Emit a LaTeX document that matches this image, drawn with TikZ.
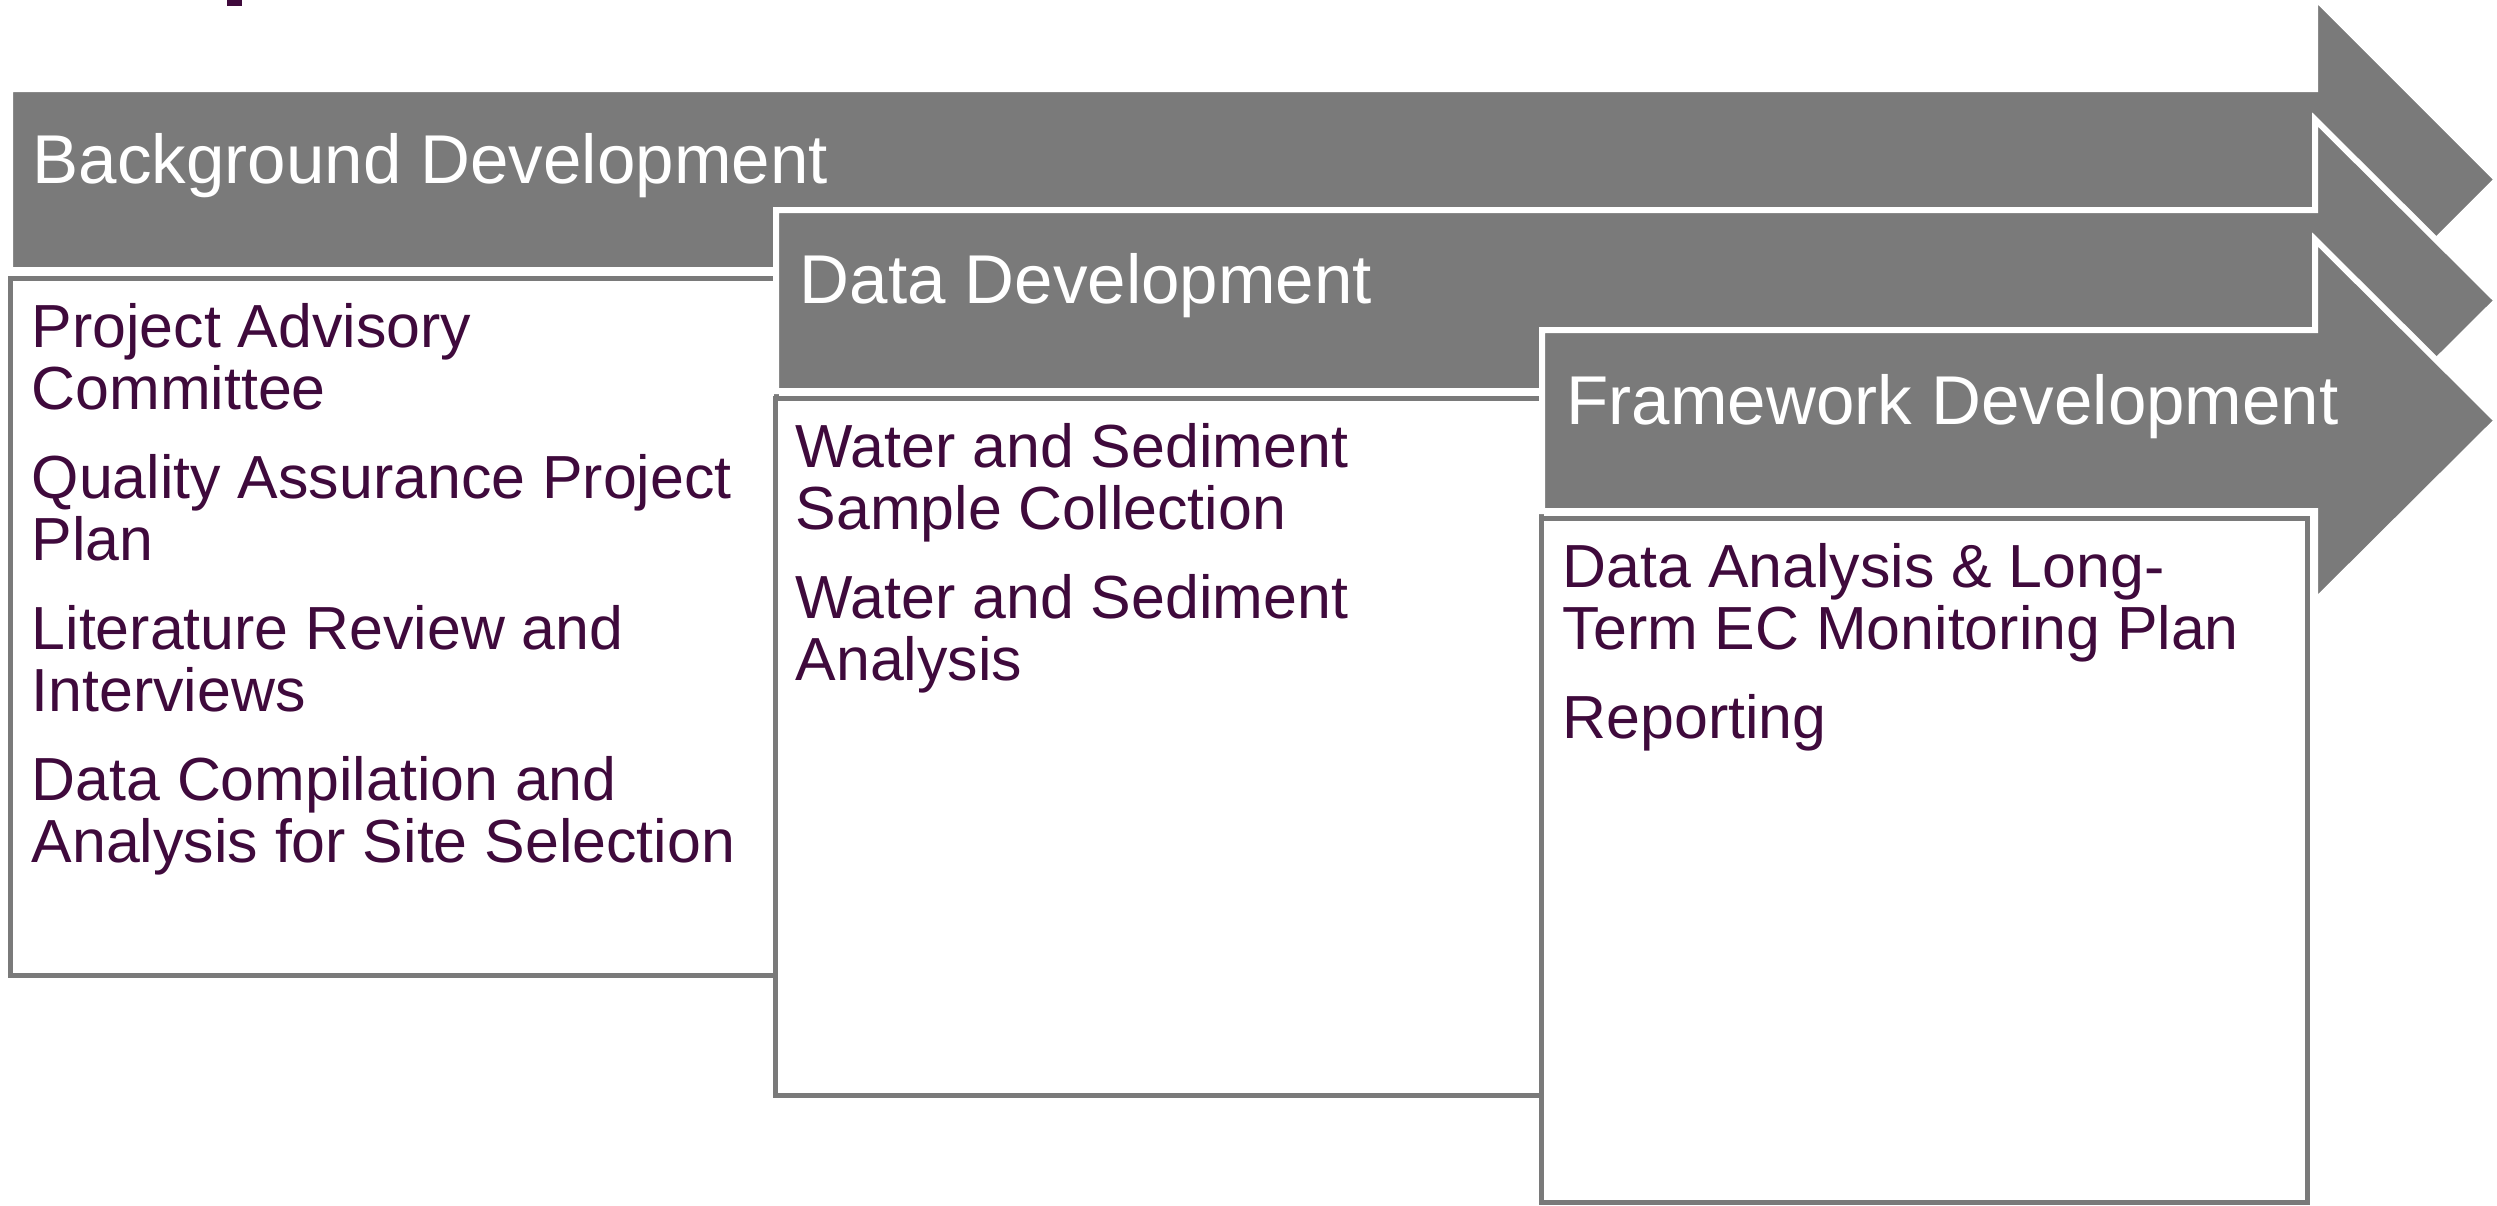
\documentclass[tikz,border=0pt]{standalone}
\usepackage{fontspec}
\setmainfont{Liberation Sans}
\definecolor{phasegray}{HTML}{7A7A7A}
\definecolor{itemplum}{HTML}{3F0A3C}

\begin{document}
\begin{tikzpicture}[x=0.01cm, y=-0.01cm,
  phase/.style={fill=phasegray, draw=white, line width=1.71pt, line join=miter},
  taskbox/.style={fill=white, draw=phasegray, line width=1.42pt},
  phasetitle/.style={anchor=base west, inner sep=0pt, text=white,
    font=\fontsize{19.65pt}{20pt}\selectfont},
  task/.style={anchor=base west, inner sep=0pt, text=itemplum,
    font=\fontsize{17.3pt}{17.6pt}\selectfont}]

\useasboundingbox (0,0) rectangle (2497,1205);

% stem of a heading letter reaching in from above
\fill[itemplum] (227,0) rectangle (242,6);

% phase 1: background development
\draw[phase] (10,89) -- (2315,89) -- (2315,-2.5) -- (2497,179.5)
  -- (2315,361.5) -- (2315,270) -- (10,270) -- cycle;
\node[phasetitle] (t1) at (32,183) {Background Development};
\draw[taskbox] (10.5,278.5) rectangle (776,975);
\node[task] (b1a) at (31,347) {Project Advisory};
\node[task] (b1b) at (31,409) {Committee};
\node[task] (b1c) at (31,498) {Quality Assurance Project};
\node[task] (b1d) at (31,560) {Plan};
\node[task] (b1e) at (31,649) {Literature Review and};
\node[task] (b1f) at (31,711) {Interviews};
\node[task] (b1g) at (31,800) {Data Compilation and};
\node[task] (b1h) at (31,862) {Analysis for Site Selection};

% phase 2: data development
\draw[phase] (776,210) -- (2315,210) -- (2315,119.5) -- (2497,300.5)
  -- (2315,481.5) -- (2315,391) -- (776,391) -- cycle;
\node[phasetitle] (t2) at (799,303) {Data Development};
\draw[taskbox] (775.5,398.5) rectangle (1541.5,1095);
\node[task] (b2a) at (795,467) {Water and Sediment};
\node[task] (b2b) at (795,529) {Sample Collection};
\node[task] (b2c) at (795,618) {Water and Sediment};
\node[task] (b2d) at (795,680) {Analysis};

% phase 3: framework development
\draw[phase] (1542,330) -- (2315,330) -- (2315,239.5) -- (2497,420.5)
  -- (2315,601.5) -- (2315,511) -- (1542,511) -- cycle;
\node[phasetitle] (t3) at (1566,424) {Framework Development};
\draw[taskbox] (1541.5,518.5) rectangle (2307.5,1202.5);
\node[task] (b3a) at (1562,587) {Data Analysis \& Long-};
\node[task] (b3b) at (1562,649) {Term EC Monitoring Plan};
\node[task] (b3c) at (1562,738) {Reporting};

\end{tikzpicture}
\end{document}
